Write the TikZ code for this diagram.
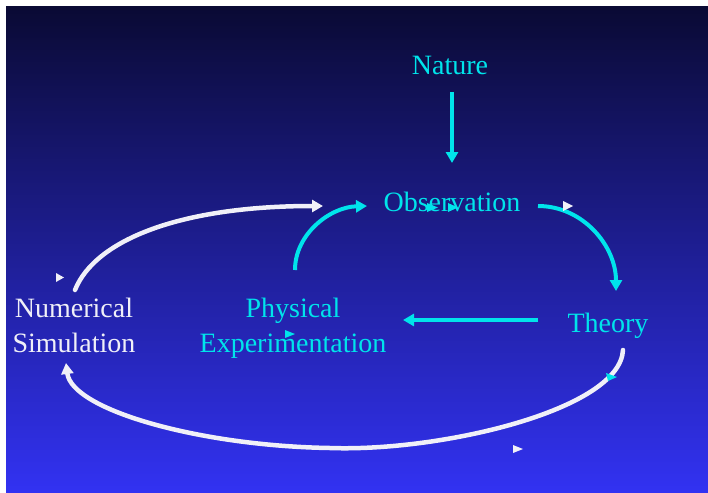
\documentclass[tikz,border=0pt]{standalone}
\usepackage{fontspec}
\setmainfont{Liberation Serif}
\usetikzlibrary{arrows.meta}
\definecolor{cy}{RGB}{0,228,235}
\definecolor{bgtop}{RGB}{10,10,52}
\definecolor{bgbot}{RGB}{50,50,242}
\definecolor{wt}{RGB}{240,240,248}
\begin{document}
\begin{tikzpicture}[x=1pt,y=-1pt,
  lbl/.style={font=\fontsize{28}{35}\selectfont, inner sep=0pt, align=center},
  cylbl/.style={lbl, text=cy},
  wlbl/.style={lbl, text=wt},
  cyarrow/.style={draw=cy, line width=4pt, -{Triangle[length=11pt,width=12pt]}},
  warrow/.style={draw=wt, line width=4.5pt, line cap=round, -{Triangle[length=11pt,width=12pt]}},
  wmark/.style={fill=wt},
  cymark/.style={fill=cy}]
\useasboundingbox (0,0) rectangle (708,492);
\shade[top color=bgtop, bottom color=bgbot] (6,7) rectangle (708,492);

% labels
\node[cylbl, anchor=base] (nature) at (450,75) {Nature};
\node[cylbl, anchor=base] (obs) at (452,211) {Observation};
\node[cylbl, anchor=base] (theory) at (608,332) {Theory};
\node[cylbl, anchor=base] (phys) at (293,352) {Physical\\Experimentation};
\node[wlbl, anchor=base] (num) at (74,352) {Numerical\\Simulation};

% connector end points
\coordinate (natA) at (452,92);
\coordinate (obsN) at (452,163);
\coordinate (obsE) at (538,206);
\coordinate (thN) at (616,291);
\coordinate (thW) at (538,320);
\coordinate (physE) at (403,320);
\coordinate (physN) at (295,270);
\coordinate (obsW1) at (367,206);
\coordinate (numN) at (75,290);
\coordinate (obsW2) at (323,206);
\coordinate (thS) at (623,350);
\coordinate (bot) at (330,448);
\coordinate (numS) at (66,363);

% cyan connectors
\draw[cyarrow] (natA) -- (obsN);
\draw[cyarrow] (obsE) .. controls (583,206) and (616,246) .. (thN);
\draw[cyarrow] (thW) -- (physE);
\draw[cyarrow] (physN) .. controls (295,234) and (330,207) .. (obsW1);

% white connectors
\draw[warrow] (numN) .. controls (95,240) and (180,206) .. (obsW2);
\draw[warrow] (thS) .. controls (620,410) and (440,452) .. (bot)
  .. controls (200,446) and (72,410) .. (numS);

% small animation markers
\fill[wmark] (56,273) -- (64,277.5) -- (56,282) -- cycle;
\fill[wmark] (563,201) -- (573,206) -- (563,211) -- cycle;
\fill[wmark] (513,445) -- (523,449) -- (513,453) -- cycle;
\fill[cymark] (427,203) -- (438,207.5) -- (427,212) -- cycle;
\fill[cymark] (448,203) -- (458,207.5) -- (448,212) -- cycle;
\fill[cymark] (285,330) -- (295,334) -- (285,338) -- cycle;
\fill[cymark] (606,373) -- (617,377) -- (608,381) -- cycle;
\end{tikzpicture}
\end{document}
